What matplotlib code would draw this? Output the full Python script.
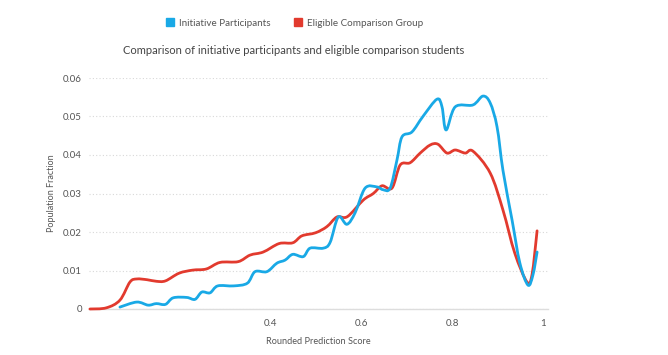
"""Population fraction by rounded prediction score: initiative participants vs comparison group."""
import matplotlib
matplotlib.use("Agg")
import matplotlib.pyplot as plt
import numpy as np
from matplotlib.lines import Line2D
from matplotlib.path import Path
from matplotlib.patches import PathPatch

plt.rcParams["font.family"] = ["Lato", "DejaVu Sans"]

# values
participant_x = [0.07, 0.107, 0.132, 0.15, 0.17, 0.187, 0.217, 0.235, 0.25, 0.268,
                 0.285, 0.32, 0.35, 0.367, 0.393, 0.415, 0.433, 0.45, 0.473, 0.488,
                 0.517, 0.532, 0.55, 0.569, 0.587, 0.609, 0.635, 0.648, 0.664, 0.679,
                 0.69, 0.712, 0.736, 0.767, 0.778, 0.787, 0.807, 0.846, 0.868, 0.884,
                 0.899, 0.912, 0.932, 0.949, 0.967, 0.978, 0.987]
participant_y = [0.0005, 0.0018, 0.0010, 0.0014, 0.0012, 0.0029, 0.0030, 0.0025, 0.0044, 0.0042,
                 0.0060, 0.0060, 0.0067, 0.0097, 0.0097, 0.0119, 0.0127, 0.0142, 0.0136, 0.0158,
                 0.0158, 0.0173, 0.0239, 0.0220, 0.0250, 0.0314, 0.0317, 0.0310, 0.0314, 0.0387,
                 0.0447, 0.0460, 0.0500, 0.0545, 0.0525, 0.0465, 0.0525, 0.0530, 0.0553, 0.0535,
                 0.0473, 0.0360, 0.0231, 0.0120, 0.0062, 0.0089, 0.0148]

comparison_x = [0.004, 0.04, 0.07, 0.092, 0.107, 0.13, 0.15, 0.17, 0.20, 0.23,
                0.26, 0.29, 0.33, 0.356, 0.385, 0.42, 0.45, 0.47, 0.50, 0.525,
                0.547, 0.57, 0.605, 0.627, 0.646, 0.668, 0.686, 0.708, 0.73, 0.752,
                0.769, 0.789, 0.807, 0.829, 0.846, 0.884, 0.912, 0.938, 0.965, 0.976,
                0.987]
comparison_y = [0.0000, 0.0003, 0.0023, 0.0070, 0.0078, 0.0076, 0.0072, 0.0073, 0.0093, 0.0101,
                0.0104, 0.0121, 0.0123, 0.0140, 0.0148, 0.0170, 0.0172, 0.0190, 0.0198, 0.0214,
                0.0239, 0.0240, 0.0283, 0.0300, 0.0320, 0.0314, 0.0374, 0.0380, 0.0405, 0.0426,
                0.0428, 0.0405, 0.0413, 0.0405, 0.0410, 0.0353, 0.0257, 0.0145, 0.0070, 0.0090,
                0.0203]

series_names = ["Initiative Participants", "Eligible Comparison Group"]
BLUE, RED = "#19a9e6", "#e23a2e"
TEXT = "#555555"


def spline(ax, xs, ys, color):
    # catmull-rom segments drawn as cubic beziers (like a highcharts spline)
    p = np.column_stack([xs, ys])
    verts, codes = [p[0]], [Path.MOVETO]
    for i in range(len(p) - 1):
        p0 = p[max(i - 1, 0)]
        p1, p2 = p[i], p[i + 1]
        p3 = p[min(i + 2, len(p) - 1)]
        verts += [p1 + (p2 - p0) / 6, p2 - (p3 - p1) / 6, p2]
        codes += [Path.CURVE4] * 3
    ax.add_patch(PathPatch(Path(verts, codes), fill=False, edgecolor=color,
                           linewidth=2.0, capstyle="round", joinstyle="round",
                           clip_on=False, zorder=3))


fig = plt.figure(figsize=(6.68, 3.55), dpi=100)
ax = fig.add_axes([89 / 668, 46 / 355, 459 / 668, 231 / 355])

spline(ax, comparison_x, comparison_y, RED)
spline(ax, participant_x, participant_y, BLUE)

ax.set_xlim(0.002, 1.011)
ax.set_ylim(0, 0.06)
ax.set_xticks([0.4, 0.6, 0.8, 1.0], ["0.4", "0.6", "0.8", "1"])
ax.set_yticks([0, 0.01, 0.02, 0.03, 0.04, 0.05, 0.06],
              ["0", "0.01", "0.02", "0.03", "0.04", "0.05", "0.06"])
ax.tick_params(length=0, labelsize=7, labelcolor=TEXT)
ax.tick_params(axis="y", pad=5)
ax.tick_params(axis="x", pad=7)
ax.grid(axis="y", color="#d8d8d8", linestyle=(0, (1, 2)), linewidth=0.8)
for side in ("top", "right", "left"):
    ax.spines[side].set_visible(False)
ax.spines["bottom"].set_color("#dddddd")
ax.spines["bottom"].set_linewidth(1.0)

ax.set_ylabel("Population Fraction", fontsize=6.5, color=TEXT)
ax.yaxis.set_label_coords(-0.072, 0.5)
ax.set_xlabel("Rounded Prediction Score", fontsize=6.6, color=TEXT)
ax.xaxis.set_label_coords(0.5, -0.12)

fig.text(294 / 668, 1 - 51 / 355, "Comparison of initiative participants and eligible comparison students",
         ha="center", va="center", fontsize=8, color="#444444")

handles = [Line2D([], [], linestyle="none", marker="s", markersize=6.2, color=c)
           for c in (BLUE, RED)]
fig.legend(handles, series_names, loc="center", bbox_to_anchor=(295 / 668, 1 - 23 / 355),
           ncol=2, frameon=False, fontsize=7.1, labelcolor=TEXT, handletextpad=0.5,
           columnspacing=2.4, handlelength=0.8)

fig.savefig("out.png", dpi=100)
